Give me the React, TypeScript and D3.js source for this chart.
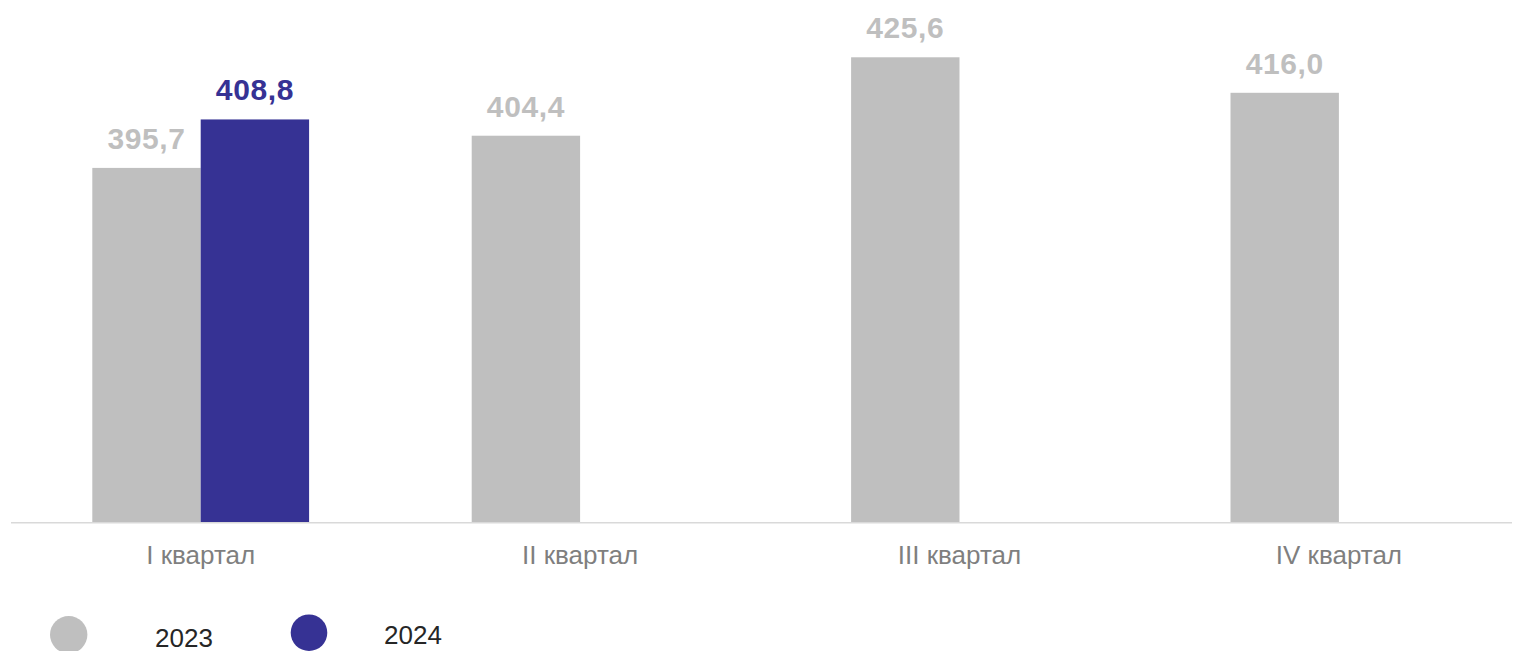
import React from "react";
import * as d3 from "d3";

const categories = ["I квартал", "II квартал", "III квартал", "IV квартал"];
const seriesNames = ["2023", "2024"];
const values2023: (number | null)[] = [395.7, 404.4, 425.6, 416.0];
const values2024: (number | null)[] = [408.8, null, null, null];
const seriesColors = ["#bfbfbf", "#363294"];

const W = 1514;
const H = 651;
const baseY = 522;

export default function App() {
  const x = d3.scaleBand<string>().domain(categories).range([11, 1528.6]).padding(0);
  const bw = x.bandwidth();
  const barW = bw * 0.2857;
  const x1 = d3
    .scaleBand<string>()
    .domain(seriesNames)
    .range([bw / 2 - barW, bw / 2 + barW])
    .padding(0);
  const y = d3.scaleLinear().domain([300, 440]).range([baseY, 4]);
  const series = [values2023, values2024];
  const fmt = (v: number) => v.toFixed(1).replace(".", ",");

  return (
    <svg
      width={W}
      height={H}
      style={{ position: "absolute", left: 0, top: 0, display: "block" }}
      fontFamily="'Liberation Sans', Arial, sans-serif"
    >
      <rect x={0} y={0} width={W} height={H} fill="#ffffff" />
      {categories.map((c, i) => (
        <g key={c}>
          {series.map((vals, s) => {
            const v = vals[i];
            if (v == null) return null;
            const bx = (x(c) as number) + (x1(seriesNames[s]) as number);
            const top = y(v);
            return (
              <g key={s}>
                <rect x={bx} y={top} width={x1.bandwidth()} height={baseY - top} fill={seriesColors[s]} />
                <text
                  x={bx + x1.bandwidth() / 2}
                  y={top - 19}
                  textAnchor="middle"
                  fontSize={30}
                  letterSpacing={0.6}
                  fontWeight="bold"
                  fill={seriesColors[s]}
                >
                  {fmt(v)}
                </text>
              </g>
            );
          })}
          <text
            x={(x(c) as number) + bw / 2}
            y={564}
            textAnchor="middle"
            fontSize={26}
            fill="#7f7f7f"
          >
            {c}
          </text>
        </g>
      ))}
      <line x1={11} x2={1512} y1={baseY + 0.75} y2={baseY + 0.75} stroke="#d9d9d9" strokeWidth={1.5} />
      <circle cx={68.7} cy={634.7} r={18.7} fill={seriesColors[0]} />
      <text x={155} y={647} fontSize={26} fill="#262626">{seriesNames[0]}</text>
      <circle cx={309} cy={632.7} r={18.3} fill={seriesColors[1]} />
      <text x={384} y={644} fontSize={26} fill="#262626">{seriesNames[1]}</text>
    </svg>
  );
}
